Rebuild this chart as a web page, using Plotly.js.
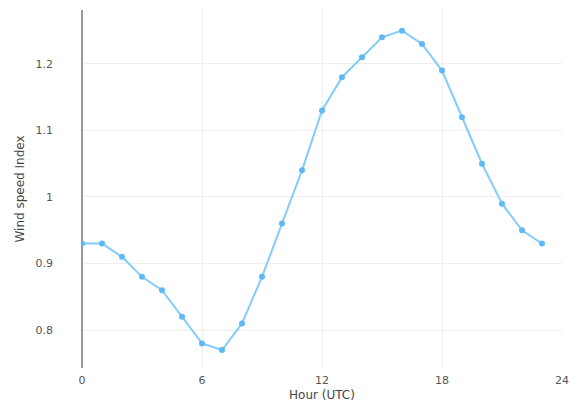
<!DOCTYPE html>
<html><head><meta charset="utf-8">
<script src="https://cdn.plot.ly/plotly-3.0.1.min.js"></script>
<style>html,body{margin:0;padding:0;background:#fff}</style>
</head><body>
<div id="chart" style="width:569px;height:405px"></div>
<script>
const hours = [0,1,2,3,4,5,6,7,8,9,10,11,12,13,14,15,16,17,18,19,20,21,22,23];
const windIndex = [0.93,0.93,0.91,0.88,0.86,0.82,0.78,0.77,0.81,0.88,0.96,1.04,1.13,1.18,1.21,1.24,1.25,1.23,1.19,1.12,1.05,0.99,0.95,0.93];
const xTicks = [0,6,12,18,24];
const yTicks = [0.8,0.9,1,1.1,1.2];

Plotly.newPlot('chart', [{
  x: hours, y: windIndex, type: 'scatter', mode: 'lines+markers',
  line: {color: 'rgb(130,205,250)', width: 2},
  marker: {color: 'rgb(95,185,245)', size: 6}
}], {
  width: 569, height: 405,
  margin: {l: 82, r: 7, t: 10, b: 37},
  showlegend: false,
  paper_bgcolor: '#fff', plot_bgcolor: '#fff',
  font: {family: 'DejaVu Sans, verdana, sans-serif', color: '#555', size: 11},
  xaxis: {
    range: [0, 24], tickvals: xTicks, ticktext: xTicks.map(String),
    showgrid: true, gridcolor: '#eee', zeroline: true, zerolinecolor: '#999', zerolinewidth: 2,
    showline: false, ticks: '', ticklabelstandoff: 4,
    title: {text: 'Hour (UTC)', font: {size: 12, color: '#444'}, standoff: 4}
  },
  yaxis: {
    range: [0.743, 1.281], tickvals: yTicks, ticktext: ['0.8','0.9','1','1.1','1.2'],
    showgrid: true, gridcolor: '#eee', zeroline: false, showline: false, ticks: '',
    ticklabelstandoff: 28,
    title: {text: 'Wind speed Index', font: {size: 12, color: '#444'}, standoff: 8}
  }
}, {displayModeBar: false});
</script>
</body></html>
